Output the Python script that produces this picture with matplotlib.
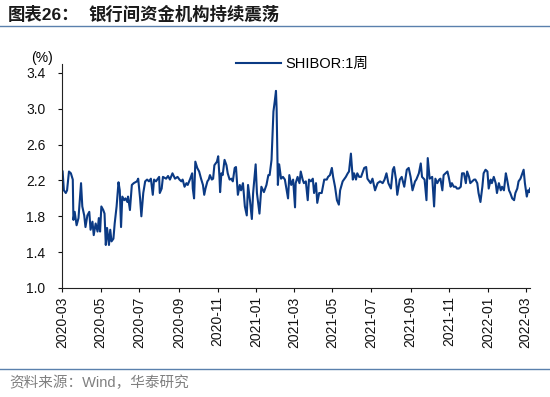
import matplotlib
matplotlib.use("Agg")
import matplotlib.pyplot as plt
import matplotlib.dates as mdates
import pandas as pd

plt.rcParams['font.family'] = ['Liberation Sans', 'Noto Sans CJK SC']

# SHIBOR 1 week (%)
dates = [
    "2020-03-02", "2020-03-04", "2020-03-07", "2020-03-09", "2020-03-12", "2020-03-15", "2020-03-18", "2020-03-19",
    "2020-03-21", "2020-03-24", "2020-03-27", "2020-03-29", "2020-03-31", "2020-04-02", "2020-04-05", "2020-04-07",
    "2020-04-10", "2020-04-13", "2020-04-15", "2020-04-18", "2020-04-20", "2020-04-23", "2020-04-26", "2020-04-28",
    "2020-04-30", "2020-05-02", "2020-05-05", "2020-05-07", "2020-05-09", "2020-05-11", "2020-05-14", "2020-05-16",
    "2020-05-18", "2020-05-21", "2020-05-23", "2020-05-26", "2020-05-29", "2020-05-31", "2020-06-02", "2020-06-04",
    "2020-06-07", "2020-06-09", "2020-06-12", "2020-06-13", "2020-06-16", "2020-06-19", "2020-06-22", "2020-06-27",
    "2020-06-29", "2020-07-02", "2020-07-04", "2020-07-07", "2020-07-10", "2020-07-13", "2020-07-16", "2020-07-19",
    "2020-07-22", "2020-07-24", "2020-07-27", "2020-07-29", "2020-08-01", "2020-08-02", "2020-08-05", "2020-08-07",
    "2020-08-12", "2020-08-15", "2020-08-18", "2020-08-22", "2020-08-26", "2020-08-30", "2020-09-02", "2020-09-05",
    "2020-09-07", "2020-09-10", "2020-09-13", "2020-09-15", "2020-09-19", "2020-09-22", "2020-09-23", "2020-09-25",
    "2020-09-27", "2020-09-30", "2020-10-03", "2020-10-06", "2020-10-09", "2020-10-11", "2020-10-13", "2020-10-16",
    "2020-10-18", "2020-10-20", "2020-10-23", "2020-10-25", "2020-10-27", "2020-10-31", "2020-11-02", "2020-11-04",
    "2020-11-05", "2020-11-07", "2020-11-09", "2020-11-12", "2020-11-15", "2020-11-17", "2020-11-20", "2020-11-23",
    "2020-11-25", "2020-11-28", "2020-11-30", "2020-12-03", "2020-12-06", "2020-12-08", "2020-12-11", "2020-12-14",
    "2020-12-17", "2020-12-19", "2020-12-22", "2020-12-25", "2020-12-27", "2020-12-31",
    "2021-01-02", "2021-01-06", "2021-01-09", "2021-01-13", "2021-01-17", "2021-01-20", "2021-01-22", "2021-01-25",
    "2021-01-28", "2021-01-30", "2021-02-01", "2021-02-02", "2021-02-04", "2021-02-06", "2021-02-09", "2021-02-12",
    "2021-02-15", "2021-02-20", "2021-02-22", "2021-02-25", "2021-02-28", "2021-03-03", "2021-03-04", "2021-03-07",
    "2021-03-10", "2021-03-12", "2021-03-15", "2021-03-17", "2021-03-20", "2021-03-23", "2021-03-25", "2021-03-28",
    "2021-03-31", "2021-04-02", "2021-04-05", "2021-04-07", "2021-04-10", "2021-04-14", "2021-04-18", "2021-04-22",
    "2021-04-24", "2021-04-27", "2021-04-30", "2021-05-02", "2021-05-05", "2021-05-08", "2021-05-11", "2021-05-13",
    "2021-05-17", "2021-05-19", "2021-05-22", "2021-05-25", "2021-05-27", "2021-05-30", "2021-06-02", "2021-06-04",
    "2021-06-07", "2021-06-09", "2021-06-12", "2021-06-15", "2021-06-17", "2021-06-20", "2021-06-23", "2021-06-25",
    "2021-06-28", "2021-06-30", "2021-07-03", "2021-07-07", "2021-07-11", "2021-07-15", "2021-07-19", "2021-07-22",
    "2021-07-25", "2021-07-28", "2021-08-01", "2021-08-04", "2021-08-06", "2021-08-09", "2021-08-11", "2021-08-15",
    "2021-08-18", "2021-08-22", "2021-08-26", "2021-08-29", "2021-09-01", "2021-09-04", "2021-09-08", "2021-09-10",
    "2021-09-14", "2021-09-17", "2021-09-19", "2021-09-23", "2021-09-26", "2021-09-28", "2021-10-01", "2021-10-05",
    "2021-10-08", "2021-10-10", "2021-10-13", "2021-10-16", "2021-10-18", "2021-10-21", "2021-10-23", "2021-10-26",
    "2021-10-29", "2021-10-31", "2021-11-03", "2021-11-05", "2021-11-08", "2021-11-11", "2021-11-13", "2021-11-16",
    "2021-11-19", "2021-11-21", "2021-11-24", "2021-11-27", "2021-11-29", "2021-12-02", "2021-12-04", "2021-12-07",
    "2021-12-10", "2021-12-12", "2021-12-15", "2021-12-17", "2021-12-20", "2021-12-23", "2021-12-25", "2021-12-28",
    "2021-12-31",
    "2022-01-02", "2022-01-05", "2022-01-07", "2022-01-10", "2022-01-13", "2022-01-15", "2022-01-18", "2022-01-21",
    "2022-01-23", "2022-01-26", "2022-01-29", "2022-01-31", "2022-02-03", "2022-02-05", "2022-02-08", "2022-02-11",
    "2022-02-13", "2022-02-16", "2022-02-18", "2022-02-21", "2022-02-24", "2022-02-26", "2022-02-28", "2022-03-02",
    "2022-03-03", "2022-03-05", "2022-03-07", "2022-03-08",
]
shibor_1w = [
    2.30, 2.09, 2.06, 2.09, 2.30, 2.28, 2.21, 1.76,
    1.85, 1.70, 1.78, 1.98, 2.17, 1.91, 1.81, 1.68,
    1.81, 1.85, 1.65, 1.74, 1.59, 1.72, 1.63, 1.78,
    1.63, 1.91, 1.87, 1.83, 1.48, 1.67, 1.48, 1.65,
    1.52, 1.55, 1.72, 1.91, 2.18, 2.09, 1.68, 2.02,
    1.98, 2.00, 1.96, 2.02, 1.87, 2.15, 2.17, 2.19,
    2.22, 2.00, 1.80, 2.06, 2.19, 2.21, 2.19, 2.22,
    2.04, 2.21, 2.19, 2.21, 2.24, 2.06, 2.11, 2.24,
    2.22, 2.25, 2.21, 2.28, 2.22, 2.24, 2.21, 2.19,
    2.21, 2.13, 2.17, 2.15, 2.22, 2.28, 2.11, 2.00,
    2.41, 2.34, 2.30, 2.22, 2.15, 2.04, 2.11, 2.19,
    2.21, 2.26, 2.21, 2.22, 2.37, 2.41, 2.47, 2.24,
    2.07, 2.28, 2.26, 2.43, 2.37, 2.28, 2.21, 2.22,
    2.19, 2.34, 2.35, 2.04, 2.15, 2.09, 2.17, 1.91,
    1.81, 2.15, 1.98, 1.77, 2.06, 2.38,
    2.06, 1.83, 2.13, 2.07, 2.15, 2.26, 2.26, 2.43,
    2.97, 3.08, 3.20, 3.00, 2.15, 2.38, 2.22, 2.24,
    2.21, 2.00, 2.26, 2.15, 2.21, 1.90, 2.17, 2.24,
    2.17, 2.30, 2.21, 2.17, 2.19, 1.98, 2.21, 2.19,
    2.22, 2.06, 2.17, 1.95, 2.06, 2.06, 2.21, 2.21,
    2.24, 2.26, 2.34, 2.24, 2.13, 1.98, 1.93, 2.09,
    2.19, 2.21, 2.24, 2.28, 2.30, 2.50, 2.21, 2.28,
    2.21, 2.28, 2.24, 2.24, 2.28, 2.34, 2.35, 2.22,
    2.19, 2.17, 2.22, 2.09, 2.17, 2.19, 2.17, 2.21,
    2.28, 2.17, 2.11, 2.32, 2.35, 2.21, 2.04, 2.21,
    2.24, 2.13, 2.32, 2.34, 2.24, 2.09, 2.19, 2.21,
    2.28, 2.39, 2.24, 2.21, 1.98, 2.45, 2.22, 2.24,
    1.91, 2.22, 2.17, 2.21, 2.22, 2.09, 2.26, 2.28,
    2.30, 2.24, 2.13, 2.17, 2.13, 2.13, 2.11, 2.11,
    2.13, 2.28, 2.28, 2.17, 2.30, 2.24, 2.17, 2.19,
    2.21, 2.21, 2.17, 2.06, 1.96, 2.13, 2.28, 2.32,
    2.30,
    2.11, 2.21, 2.17, 2.24, 2.17, 2.06, 2.17, 2.09,
    2.13, 2.09, 2.28, 2.21, 2.09, 2.06, 2.00, 1.98,
    2.06, 2.11, 2.19, 2.22, 2.28, 2.32, 2.17, 2.07,
    2.02, 2.09, 2.07, 2.11,
]
series_name = "SHIBOR:1周"
y_ticks = [1.0, 1.4, 1.8, 2.2, 2.6, 3.0, 3.4]

line_color = "#0b3a84"
rule_color = "#5a80ad"

fig = plt.figure(figsize=(5.5, 3.97), dpi=100)
ax = fig.add_axes([0.1127, 0.2746, 0.8509, 0.5642])

x = pd.to_datetime(dates)
ax.plot(x, shibor_1w, color=line_color, lw=1.5, label=series_name)

ax.set_ylim(1.0, 3.5)
ax.set_yticks(y_ticks)
ax.yaxis.set_major_formatter(plt.FormatStrFormatter('%.1f'))
ax.set_xlim(pd.Timestamp("2020-03-01"), pd.Timestamp("2022-03-08"))
ax.xaxis.set_major_locator(mdates.MonthLocator(bymonth=[1, 3, 5, 7, 9, 11]))
ax.xaxis.set_major_formatter(mdates.DateFormatter('%Y-%m'))

for s in ['top', 'right']:
    ax.spines[s].set_visible(False)
for s in ['left', 'bottom']:
    ax.spines[s].set_linewidth(0.8)
    ax.spines[s].set_color('#222222')

ax.tick_params(axis='y', direction='out', length=3, width=0.8, pad=9, labelsize=10, colors='#111111')
ax.tick_params(axis='x', direction='out', length=3, width=0.8, pad=3, labelsize=10, colors='#111111',
               labelrotation=90)

fig.text(42 / 550, 1 - 58 / 397, "(%)", ha='center', va='center', fontsize=10)

fig.legend(loc='center left', bbox_to_anchor=(236 / 550, 1 - 64 / 397), frameon=False,
           handlelength=3.1, handletextpad=0.25, borderpad=0, borderaxespad=0, fontsize=10.5)

# header and footer
fig.text(8 / 550, 1 - 15 / 397, "图表26：", fontsize=12.5, fontweight='bold', va='center', ha='left',
         color='#1a1a1a')
fig.text(88 / 550, 1 - 15 / 397, "银行间资金机构持续震荡", fontsize=12.5, fontweight='bold', va='center',
         ha='left', color='#1a1a1a', family=['Noto Sans CJK SC'])
fig.add_artist(plt.Line2D([0, 1], [1 - 26 / 397, 1 - 26 / 397], color=rule_color, lw=1.0))
fig.add_artist(plt.Line2D([0, 1], [1 - 369 / 397, 1 - 369 / 397], color=rule_color, lw=1.0))
fig.text(9 / 550, 1 - 383 / 397, "资料来源：Wind，华泰研究", fontsize=10.5, va='center', ha='left',
         color='#808080')

fig.savefig("out.png", dpi=100)
